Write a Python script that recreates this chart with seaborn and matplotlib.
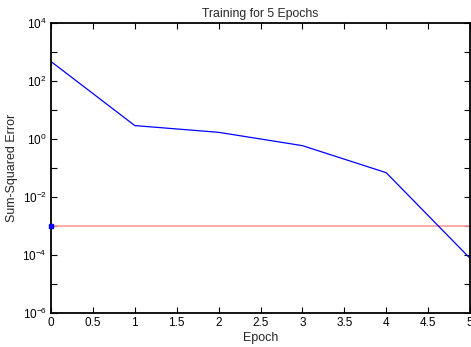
import matplotlib
matplotlib.use("Agg")
import matplotlib.pyplot as plt
import matplotlib.ticker as mticker
import numpy as np
import pandas as pd
import seaborn as sns

epochs = [0, 1, 2, 3, 4, 5]
sse = [470, 2.9, 1.7, 0.59, 0.069, 7.7e-5]
goal = 1e-3
x_ticks = [0, 0.5, 1, 1.5, 2, 2.5, 3, 3.5, 4, 4.5, 5]
x_tick_labels = ["0", "0.5", "1", "1.5", "2", "2.5", "3", "3.5", "4", "4.5", "5"]
y_major = [1e-6, 1e-4, 1e-2, 1e0, 1e2, 1e4]
y_minor = [1e-5, 1e-3, 1e-1, 1e1, 1e3]
y_tick_labels = ["$10^{-6}$", "$10^{-4}$", "$10^{-2}$", "$10^{0}$", "$10^{2}$", "$10^{4}$"]

sns.set_style("white")
plt.rcParams["font.family"] = ["Liberation Sans", "DejaVu Sans"]
plt.rcParams["mathtext.fontset"] = "custom"
plt.rcParams["mathtext.rm"] = "Liberation Sans"
plt.rcParams["mathtext.it"] = "Liberation Sans:italic"
plt.rcParams["mathtext.bf"] = "Liberation Sans:bold"

df = pd.DataFrame({"Epoch": epochs, "SSE": sse})

fig = plt.figure(figsize=(4.71, 3.47), dpi=100)
ax = fig.add_axes([51 / 471, 34 / 347, 419 / 471, 290 / 347])

ax.axhline(goal, color="#ff9c9c", linewidth=1.2, zorder=1)
sns.lineplot(data=df, x="Epoch", y="SSE", color="#0000ff", linewidth=0.9, ax=ax, zorder=2)
ax.plot([0], [goal], marker="s", markersize=3, color="#0000ff", linestyle="none",
        clip_on=False, zorder=3)

ax.set_yscale("log")
ax.set_xlim(0, 5)
ax.set_ylim(1e-6, 1e4)
ax.set_xticks(x_ticks)
ax.set_xticklabels(x_tick_labels)
ax.yaxis.set_major_locator(mticker.FixedLocator(y_major))
ax.yaxis.set_minor_locator(mticker.FixedLocator(y_minor))
ax.set_yticklabels(y_tick_labels)
ax.yaxis.set_minor_formatter(mticker.NullFormatter())

ax.tick_params(which="both", direction="in", top=True, right=True, bottom=True, left=True,
               length=4, width=0.8, colors="black", labelsize=8.5, pad=3)
for s in ax.spines.values():
    s.set_visible(True)
    s.set_color("black")
    s.set_linewidth(1.3)

ax.set_title("Training for 5 Epochs", fontsize=8.8, pad=4)
ax.set_xlabel("Epoch", fontsize=9, labelpad=2)
ax.set_ylabel("Sum-Squared Error", fontsize=9, labelpad=3)

fig.savefig("out.png", dpi=100)
